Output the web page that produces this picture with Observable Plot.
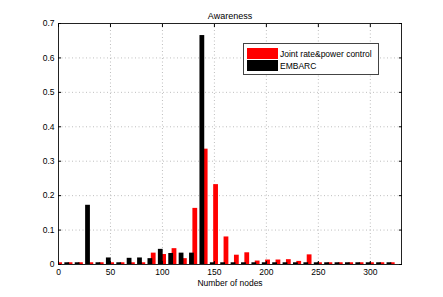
<!DOCTYPE html>
<html>
<head>
<meta charset="utf-8">
<script src="https://cdn.jsdelivr.net/npm/d3@7"></script>
<script src="https://cdn.jsdelivr.net/npm/@observablehq/plot@0.6"></script>
<style>
  html, body { margin: 0; padding: 0; background: #fff; }
  #wrap { position: relative; width: 443px; height: 297px; font-family: "Liberation Sans", Arial, sans-serif; }
  #legend { position: absolute; left: 243px; top: 43px; width: 134px; height: 30px; background: #fff; border: 1px solid #444; font-size: 8.5px; color: #000; }
  .row { position: absolute; left: 3px; height: 11px; display: flex; align-items: center; }
  .sw { width: 31px; height: 11px; margin-right: 2px; }
</style>
</head>
<body>
<div id="wrap"></div>
<script>
// ---- data ----
const groups = [0,10,20,30,40,50,60,70,80,90,100,110,120,130,140,150,160,170,180,190,200,210,220,230,240,250,260,270,280,290,300,310,320];
const jointRate = [0.005,0.005,0.005,0.005,0.005,0.005,0.005,0.005,0.005,0.033,0.029,0.046,0.017,0.163,0.335,0.232,0.080,0.027,0.034,0.010,0.013,0.013,0.014,0.009,0.028,0.005,0.005,0.005,0.005,0.005,0.005,0.005,0.005];
const embarc    = [0.005,0.005,0.005,0.172,0.005,0.019,0.005,0.018,0.019,0.017,0.044,0.032,0.033,0.033,0.665,0.005,0.005,0.005,0.005,0.005,0.005,0.005,0.005,0.005,0.005,0.005,0.005,0.005,0.005,0.005,0.005,0.005,0.005];
const seriesNames = ["Joint rate&power control", "EMBARC"];
const seriesColors = ["#ff0000", "#000000"];
const xTicks = [0,50,100,150,200,250,300];
const yTicks = [0,0.1,0.2,0.3,0.4,0.5,0.6,0.7];
const titleText = "Awareness";
const xLabel = "Number of nodes";

const barW = 4.6, off = 1.6;
const redData = groups.map((g, i) => ({g, v: jointRate[i]}));
const blackData = groups.map((g, i) => ({g, v: embarc[i]}));

const chart = Plot.plot({
  width: 443,
  height: 297,
  marginLeft: 58,
  marginRight: 42,
  marginTop: 23,
  marginBottom: 33,
  style: {fontFamily: "Liberation Sans, Arial, sans-serif", fontSize: "8.5px", color: "#000", background: "#fff"},
  x: {domain: [0, 330], label: null},
  y: {domain: [0, 0.7], label: null},
  marks: [
    Plot.gridX(xTicks, {stroke: "#999", strokeOpacity: 0.8, strokeDasharray: "1,2.5", strokeWidth: 0.8}),
    Plot.gridY(yTicks, {stroke: "#999", strokeOpacity: 0.8, strokeDasharray: "1,2.5", strokeWidth: 0.8}),
    Plot.rectY(redData, {x1: d => d.g + off - barW/2, x2: d => d.g + off + barW/2, y: "v", fill: seriesColors[0], clip: true}),
    Plot.rectY(blackData, {x1: d => d.g - off - barW/2, x2: d => d.g - off + barW/2, y: "v", fill: seriesColors[1], clip: true}),
    Plot.frame({stroke: "#222", strokeWidth: 1}),
    Plot.axisX({anchor: "bottom", ticks: xTicks, tickSize: -3, tickPadding: 7, tickFormat: d => String(d), label: null}),
    Plot.axisX({anchor: "top", ticks: xTicks, tickSize: -3, tickFormat: () => "", label: null}),
    Plot.axisY({anchor: "left", ticks: yTicks, tickSize: -3, tickPadding: 7, tickFormat: d => String(d), label: null}),
    Plot.axisY({anchor: "right", ticks: yTicks, tickSize: -3, tickFormat: () => "", label: null}),
    Plot.text([titleText], {frameAnchor: "top", dy: -11, fontSize: 9, fill: "#000"}),
    Plot.text([xLabel], {frameAnchor: "bottom", dy: 21, fontSize: 8.5, fill: "#000"})
  ]
});
const wrap = document.getElementById("wrap");
wrap.appendChild(chart);

const legend = document.createElement("div");
legend.id = "legend";
seriesNames.forEach((name, i) => {
  const row = document.createElement("div");
  row.className = "row";
  row.style.top = (4 + i * 12) + "px";
  const sw = document.createElement("div");
  sw.className = "sw";
  sw.style.background = seriesColors[i];
  const t = document.createElement("span");
  t.textContent = name;
  row.appendChild(sw);
  row.appendChild(t);
  legend.appendChild(row);
});
wrap.appendChild(legend);
</script>
</body>
</html>
